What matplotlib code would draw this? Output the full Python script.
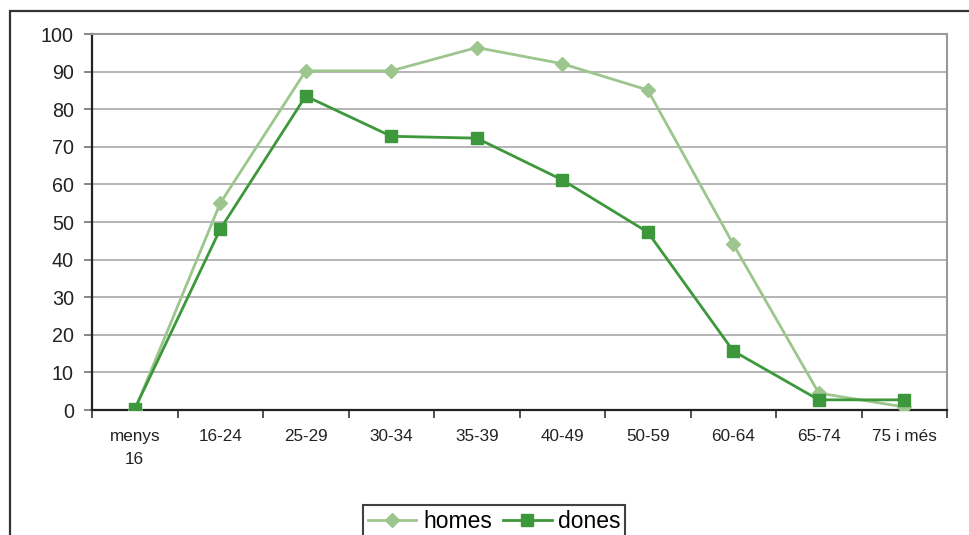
import matplotlib
matplotlib.use("Agg")
import matplotlib.pyplot as plt
from matplotlib.patches import Rectangle

plt.rcParams['font.family'] = ['Liberation Sans', 'DejaVu Sans']

categories = ["menys\n16", "16-24", "25-29", "30-34", "35-39", "40-49", "50-59", "60-64", "65-74", "75 i més"]
homes = [0.0, 55.0, 90.2, 90.2, 96.4, 92.1, 85.1, 44.1, 4.5, 0.8]
dones = [0.3, 48.1, 83.5, 72.8, 72.3, 61.2, 47.3, 15.7, 2.7, 2.7]
yticks = [0, 10, 20, 30, 40, 50, 60, 70, 80, 90, 100]

c_homes = "#9CC68E"
c_dones = "#3D983B"

fig = plt.figure(figsize=(9.7, 5.35), dpi=100)
ax = fig.add_axes([92/970, 125/535, (947-92)/970, (410-34)/535])

xs = [i + 0.5 for i in range(len(categories))]
ax.plot(xs, homes, color=c_homes, lw=2, marker='D', markersize=7.5, label='homes', zorder=3)
ax.plot(xs, dones, color=c_dones, lw=2, marker='s', markersize=8, label='dones', zorder=4)

ax.set_xlim(0, len(categories))
ax.set_ylim(0, 100)
ax.set_yticks(yticks)
ax.set_yticklabels([str(v) for v in yticks], fontsize=14.2, color="#222222")
ax.yaxis.grid(True, color="#a0a0a0", lw=1.1)
ax.set_axisbelow(True)

ax.set_xticks(range(len(categories) + 1))
ax.set_xticklabels([])
ax.set_xticks(xs, minor=True)
ax.set_xticklabels(categories, minor=True, fontsize=12.3, color="#222222", linespacing=1.6, va='top')
ax.tick_params(axis='x', which='minor', length=0, pad=14)
ax.tick_params(axis='x', which='major', length=6, width=1.2, color="#333333", direction='out')
ax.tick_params(axis='y', length=6, width=1.1, color="#666666", pad=7)

for s in ['top', 'right']:
    ax.spines[s].set_color("#999999")
    ax.spines[s].set_linewidth(1.5)
for s in ['left', 'bottom']:
    ax.spines[s].set_color("#222222")
    ax.spines[s].set_linewidth(1.6)

# outer frame
fig.patches.append(Rectangle((10.5/970, -0.2), 2.0, (535-10.5)/535 + 0.2,
                             transform=fig.transFigure, fill=False,
                             edgecolor="#333333", lw=1.6))

leg = fig.legend(loc='upper center', bbox_to_anchor=(494.5/970, (535-505)/535),
                 ncol=2, fontsize=16.5, frameon=True, fancybox=False,
                 edgecolor="#111111", handlelength=2.1, columnspacing=0.5,
                 handletextpad=0.3, borderpad=0.2, borderaxespad=0)
leg.get_frame().set_linewidth(1.5)

fig.savefig("out.png", dpi=100)
